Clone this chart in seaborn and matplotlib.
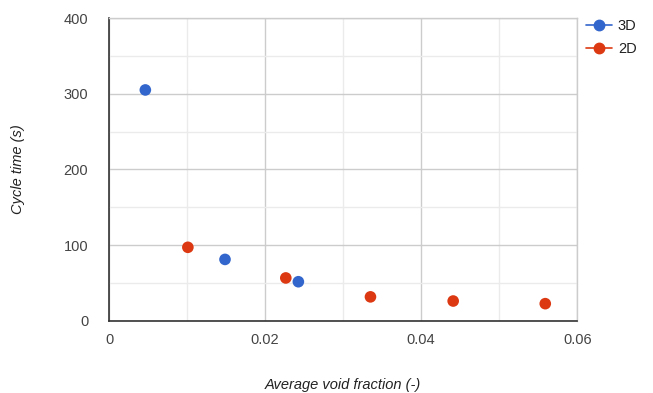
import matplotlib
matplotlib.use("Agg")
import matplotlib.pyplot as plt
from matplotlib.lines import Line2D
from matplotlib.ticker import MultipleLocator, FuncFormatter
import seaborn as sns
import pandas as pd

# Cycle time vs. average void fraction for the two model types
void_3d = [0.00465, 0.01486, 0.02426]
cycle_3d = [305, 81, 51.5]
void_2d = [0.0101, 0.02265, 0.0335, 0.0441, 0.0559]
cycle_2d = [97, 56.5, 31.5, 26, 22.5]
series_names = ["3D", "2D"]
series_colors = {"3D": "#3366CC", "2D": "#DC3912"}

df = pd.concat([
    pd.DataFrame({"void": void_3d, "cycle": cycle_3d, "model": "3D"}),
    pd.DataFrame({"void": void_2d, "cycle": cycle_2d, "model": "2D"}),
])

sns.set_theme(style="white")
plt.rcParams["font.family"] = ["Liberation Sans", "DejaVu Sans"]

fig = plt.figure(figsize=(6.53, 3.93), dpi=100)
ax = fig.add_axes([0.167, 0.184, 0.717, 0.770])

sns.scatterplot(data=df, x="void", y="cycle", hue="model", palette=series_colors,
                hue_order=series_names, s=70, edgecolor="none", legend=False,
                ax=ax, zorder=3)

ax.set_xlim(0, 0.06)
ax.set_ylim(0, 400)
ax.xaxis.set_major_locator(MultipleLocator(0.02))
ax.xaxis.set_minor_locator(MultipleLocator(0.01))
ax.yaxis.set_major_locator(MultipleLocator(100))
ax.yaxis.set_minor_locator(MultipleLocator(50))
ax.xaxis.set_major_formatter(FuncFormatter(lambda v, p: "0" if v == 0 else f"{v:g}"))

ax.grid(which="major", color="#cccccc", linewidth=1.0)
ax.grid(which="minor", color="#ebebeb", linewidth=1.0)
ax.set_axisbelow(True)

for side in ("top", "right"):
    ax.spines[side].set_color("#cccccc")
    ax.spines[side].set_linewidth(1.0)
for side in ("left", "bottom"):
    ax.spines[side].set_color("#333333")
    ax.spines[side].set_linewidth(1.2)

ax.tick_params(which="both", length=0, labelsize=10.5, labelcolor="#444444")
ax.tick_params(axis="x", pad=9)
ax.tick_params(axis="y", pad=15)

ax.set_xlabel("Average void fraction (-)", fontsize=10.5, style="italic",
              color="#222222", labelpad=22)
ax.set_ylabel("Cycle time (s)", fontsize=10.5, style="italic",
              color="#222222", labelpad=28)

handles = [Line2D([0], [0], color=series_colors[n], marker="o", markersize=7.5,
                  linewidth=1.2) for n in series_names]
ax.legend(handles, series_names, loc="upper left", bbox_to_anchor=(0.99, 1.04),
          frameon=False, fontsize=10.5, handlelength=1.8, handletextpad=0.4,
          labelspacing=0.6, labelcolor="#222222")

fig.savefig("out.png", dpi=100)
